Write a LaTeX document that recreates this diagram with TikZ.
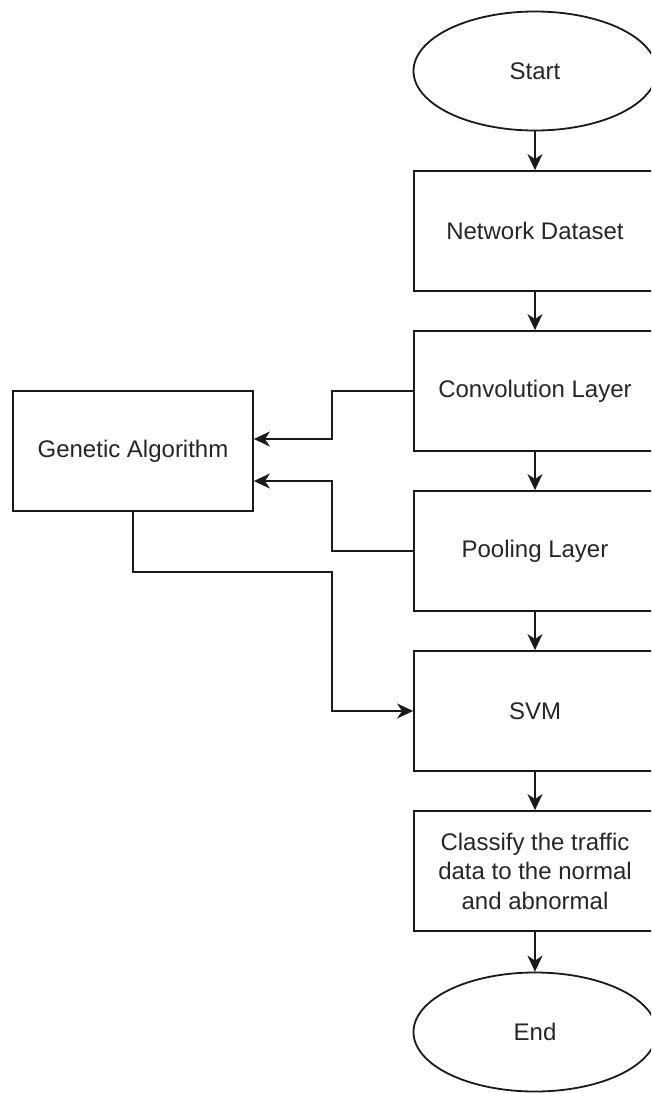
\documentclass[tikz,border=0pt]{standalone}
\usepackage{fontspec}
\setmainfont{Liberation Sans}
\usetikzlibrary{shapes.geometric,arrows.meta,calc}
\definecolor{ink}{HTML}{1A1A1A}
\definecolor{txt}{HTML}{262626}
\tikzset{
  base/.style={draw=ink, line width=1.8pt, fill=white, text=txt,
    font=\fontsize{24}{29.5}\selectfont, align=center, inner sep=0pt},
  stepbox/.style={base, rectangle, minimum width=242pt, minimum height=120pt},
  terminal/.style={base, ellipse, minimum width=243pt, minimum height=119pt},
  flow/.style={draw=ink, line width=1.8pt,
    -{Stealth[length=16pt, width=15pt, inset=5pt]}},
}
\begin{document}
\begin{tikzpicture}[x=1pt, y=-1pt]
  \clip (0,0) rectangle (651,1093);
  \fill[white] (0,0) rectangle (651,1093);

  % main column
  \node[terminal] (start) at (535,71)  {Start};
  \node[stepbox]  (data)  at (535,231) {Network Dataset};
  \node[stepbox]  (conv)  at (535,391) {Convolution Layer};
  \node[stepbox]  (pool)  at (535,551) {Pooling Layer};
  \node[stepbox]  (svm)   at (535,711) {SVM};
  \node[stepbox]  (cls)   at (535,871) {Classify the traffic\\data to the normal\\and abnormal};
  \node[terminal] (stop)  at (535,1032) {End};

  % side branch
  \node[stepbox, minimum width=240pt] (ga) at (133,451) {Genetic Algorithm};

  % vertical flow
  \draw[flow] (start) -- (data);
  \draw[flow] (data)  -- (conv);
  \draw[flow] (conv)  -- (pool);
  \draw[flow] (pool)  -- (svm);
  \draw[flow] (svm)   -- (cls);
  \draw[flow] (cls)   -- (stop);

  % feedback into the genetic algorithm
  \draw[flow] (conv.west) -- ++(-81,0) |- ([yshift=12pt]ga.east);
  \draw[flow] (pool.west) -- ++(-81,0) |- ([yshift=-30pt]ga.east);

  % optimised parameters passed on to the SVM
  \draw[flow] (ga.south) -- ++(0,60) -| ($(svm.west)+(-81,0)$) -- (svm.west);
\end{tikzpicture}
\end{document}
